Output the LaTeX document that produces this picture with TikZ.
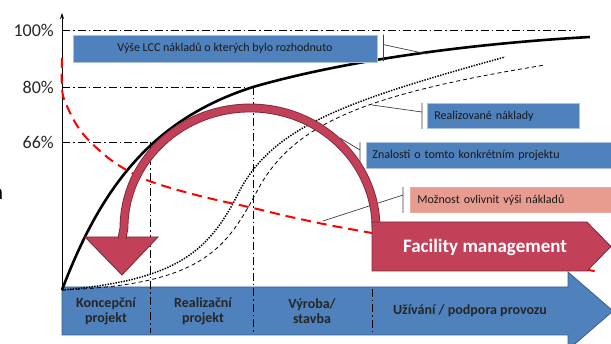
\documentclass[tikz,border=0pt]{standalone}
\usepackage{fontspec}
\setmainfont{Carlito}
\usepackage{tikz}
\usetikzlibrary{calc,arrows.meta}

\definecolor{lccblue}{HTML}{4F81BD}
\definecolor{lccrim}{HTML}{A9C0DF}
\definecolor{phaseedge}{HTML}{3A5D8A}
\definecolor{fmred}{HTML}{C24159}
\definecolor{fmdark}{HTML}{7E2A3A}
\definecolor{salmon}{HTML}{E89C8F}

\begin{document}
\begin{tikzpicture}[x=1pt,y=-1pt,
  levelline/.style={line width=0.6pt, dash pattern=on 8pt off 3pt on 1.5pt off 3pt},
  pctlabel/.style={font=\fontsize{18}{18}\selectfont, text=black!85, anchor=east, inner sep=0pt},
  infobox/.style={fill=lccblue, draw=lccrim, line width=0.8pt, font=\fontsize{12}{12}\selectfont, text=black!90, inner sep=0pt},
  phaselabel/.style={font=\bfseries\fontsize{14}{15}\selectfont, text=black!85, align=center, inner sep=0pt},
  callline/.style={draw=black!75, line width=0.7pt}]
\useasboundingbox (0,0) rectangle (611,344);

% phases at the bottom
\draw[fill=lccblue, draw=phaseedge, line width=0.8pt]
(62,287) -- (568,287) -- (568,272) -- (613,311) -- (568,350) -- (568,335) -- (62,335) -- cycle;

% levels and phase borders
\draw[levelline]
(62,30) -- (575,30)
(62,87) -- (253,87)
(62,142) -- (150,142)
(150,142) -- (150,333)
(253,87) -- (253,333)
(372,289) -- (372,333);

% axis
\draw[-{Stealth[length=6pt,width=4pt]}, line width=0.8pt] (62,288) -- (62,13);
\node[pctlabel] (p100) at (54,30) {100\%};
\node[pctlabel] (p80) at (54,87) {80\%};
\node[pctlabel] (p66) at (54,142) {66\%};

% curves
\draw[line width=2.6pt]
(62,290) .. controls (100,190) and (150,120) .. (253,87)
         .. controls (350,59) and (480,43) .. (590,37);
\draw[line width=1.5pt, dash pattern=on 1.4pt off 1.3pt]
(62,290) .. controls (180,280) and (210,250) .. (240,190)
         .. controls (275,125) and (350,100) .. (505,57);
\draw[line width=0.8pt, dash pattern=on 4pt off 3pt]
(62,290) .. controls (200,285) and (225,250) .. (255,195)
         .. controls (290,125) and (360,95) .. (545,65);
\draw[red, line width=2pt, dash pattern=on 10pt off 6pt] plot[smooth, tension=0.6] coordinates
{(62,58) (62,88) (66,104) (80,130) (100,151) (123,168) (152,182) (200,196)
 (253,208) (300,219) (372,233) (600,272)};

% text boxes
\node[infobox, minimum width=304, minimum height=27] (lcc) at (225,48.5)
{Výše LCC nákladů o kterých bylo rozhodnuto};
\node[infobox, anchor=north west, minimum height=25, text width=138, inner xsep=7pt, align=left]
(real) at (427,103) {Realizované náklady};
\node[infobox, anchor=north west, minimum height=26, text width=240, inner xsep=6pt, align=left]
(know) at (366,142) {Znalosti o tomto konkrétním projektu};
\node[infobox, fill=salmon, draw=salmon!85!white, anchor=north west, minimum height=25,
  text width=200, inner xsep=7pt, align=left]
(poss) at (410,187) {Možnost ovlivnit výši nákladů};

% callouts
\coordinate (lcctop) at ($(lcc.north east)+(6,0)$);
\coordinate (lccbot) at ($(lcc.south east)+(6,-1)$);
\coordinate (lcctap) at ($(lcc.north east)+(6,10)$);
\coordinate (lccend) at (427,54);
\coordinate (realtop) at ($(real.north west)+(-5,0)$);
\coordinate (realbot) at ($(real.south west)+(-5,0)$);
\coordinate (realtap) at ($(real.north west)+(-5,9)$);
\coordinate (realend) at (372,105);
\coordinate (knowtop) at ($(know.north west)+(-6,0)$);
\coordinate (knowbot) at ($(know.south west)+(-6,0)$);
\coordinate (knowtap) at ($(know.north west)+(-6,8)$);
\coordinate (knowend) at (340,138);
\coordinate (posstop) at ($(poss.north west)+(-7,0)$);
\coordinate (possbot) at ($(poss.south west)+(-7,0)$);
\coordinate (posstap) at ($(poss.north west)+(-7,8)$);
\coordinate (possend) at (323,221);
\draw[callline]
(lcctop) -- (lccbot) (lcctap) -- (lccend)
(realtop) -- (realbot) (realtap) -- (realend)
(knowtop) -- (knowbot) (knowtap) -- (knowend)
(posstop) -- (possbot) (posstap) -- (possend);

% turning arrow
\draw[fill=fmred, draw=fmdark, line width=0.9pt] (85,237) -- (158,237) -- (122,275) -- cycle;
\draw[draw=fmdark, line width=0.9pt, double=fmred, double distance=7pt]
(376,228) arc[start angle=0, end angle=-180, x radius=126, y radius=120] -- (122,238.5);

% facility management
\draw[fill=fmred, draw=fmdark, line width=0.8pt]
(372,222) -- (587,222) -- (611,246.5) -- (587,271) -- (372,271) -- cycle;
\node[font=\bfseries\fontsize{19}{19}\selectfont, text=white] (fm) at (485,247) {Facility management};

% phase names
\node[phaselabel] (concept) at (106,311) {Koncepční\\projekt};
\node[phaselabel] (design) at (203,311) {Realizační\\projekt};
\node[phaselabel] (build) at (312,311) {Výroba/\\stavba};
\node[phaselabel] (operate) at (470,311) {Užívání / podpora provozu};

% cut letter at the left edge
\node[anchor=base east, font=\fontsize{22}{22}\selectfont, inner sep=0pt] (cut) at (3.5,200) {n};
\end{tikzpicture}
\end{document}
